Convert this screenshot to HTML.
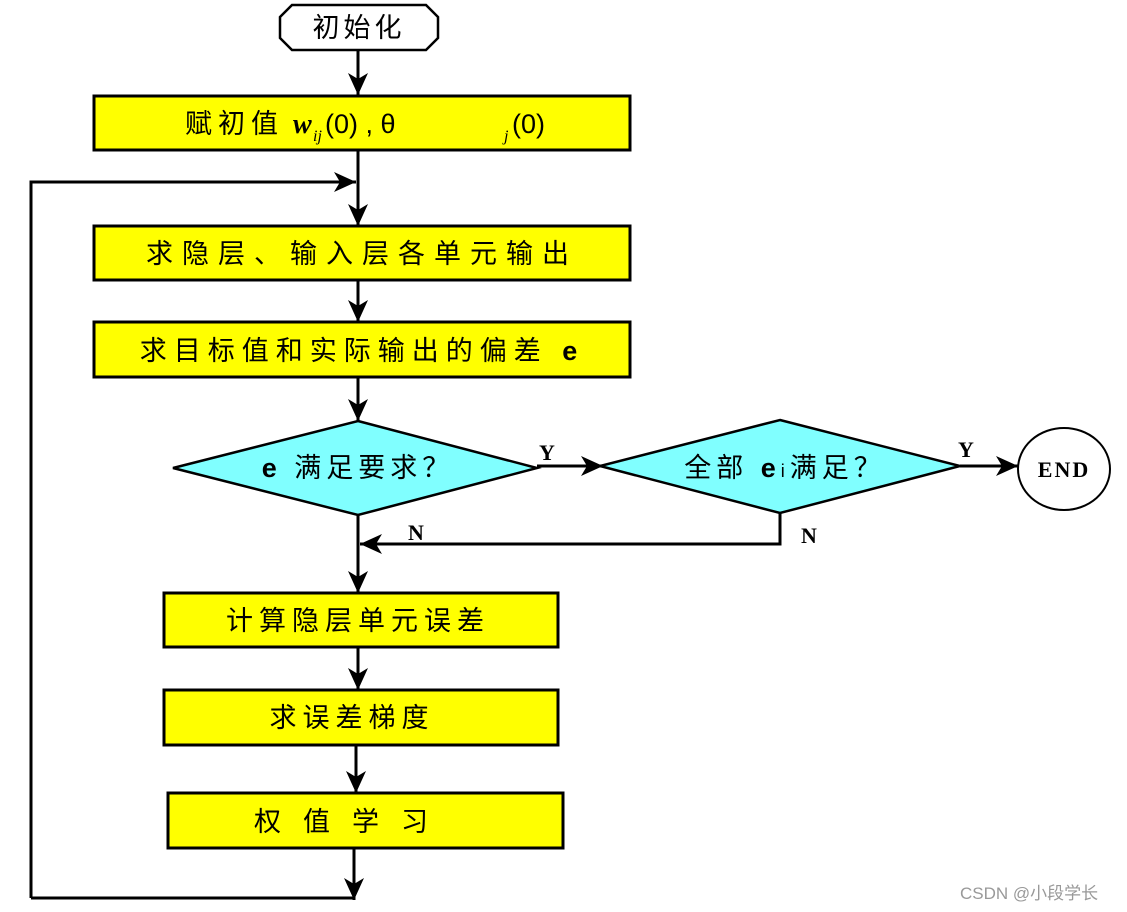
<!DOCTYPE html>
<html><head><meta charset="utf-8"><style>
html,body{margin:0;padding:0;background:#fff;width:1127px;height:912px;overflow:hidden}
svg{display:block}
.t{font-family:"Liberation Sans","Noto Sans CJK SC",sans-serif;font-size:27px;fill:#000}
.s{font-family:"Liberation Serif",serif;font-weight:bold;font-size:22px;fill:#000}
</style></head><body>
<svg width="1127" height="912" viewBox="0 0 1127 912" xmlns="http://www.w3.org/2000/svg">
<defs><marker id="a" markerWidth="12" markerHeight="12" refX="11" refY="6" orient="auto" markerUnits="userSpaceOnUse"><path d="M0,0 L12,6 L0,12 L4,6 Z" fill="#000"/></marker>
<marker id="b" markerWidth="24" markerHeight="24" refX="22" refY="10" orient="auto" markerUnits="userSpaceOnUse"><path d="M0,0 L22,10 L0,20 L6,10 Z" fill="#000"/></marker></defs>
<g stroke="#000" stroke-width="3" fill="none">
<path d="M292,5 L426,5 L438,17 L438,38 L426,50 L292,50 L280,38 L280,17 Z" stroke-width="2.5"/>
<line x1="358" y1="50" x2="358" y2="95" marker-end="url(#b)"/>
<rect x="94" y="96" width="536" height="54" fill="#ffff00"/>
<line x1="358" y1="150" x2="358" y2="226" marker-end="url(#b)"/>
<polyline points="31,898 31,182 356,182" marker-end="url(#b)"/>
<rect x="94" y="226" width="536" height="54" fill="#ffff00"/>
<line x1="358" y1="280" x2="358" y2="322" marker-end="url(#b)"/>
<rect x="94" y="322" width="536" height="55" fill="#ffff00"/>
<line x1="358" y1="377" x2="358" y2="421" marker-end="url(#b)"/>
<polygon points="358,421 537,468 358,515 173,468" fill="#80ffff" stroke-width="2.5"/>
<line x1="537" y1="466" x2="603" y2="466" marker-end="url(#b)"/>
<polygon points="780,420 960,466 780,513 600,466" fill="#80ffff" stroke-width="2.5"/>
<line x1="960" y1="466" x2="1018" y2="466" marker-end="url(#b)"/>
<ellipse cx="1064" cy="469" rx="46" ry="41" stroke-width="2"/>
<polyline points="780,513 780,544 360,544" marker-end="url(#b)"/>
<line x1="358" y1="515" x2="358" y2="593" marker-end="url(#b)"/>
<rect x="164" y="593" width="394" height="54" fill="#ffff00"/>
<line x1="358" y1="647" x2="358" y2="690" marker-end="url(#b)"/>
<rect x="164" y="690" width="394" height="55" fill="#ffff00"/>
<line x1="356" y1="745" x2="356" y2="793" marker-end="url(#b)"/>
<rect x="168" y="793" width="395" height="55" fill="#ffff00"/>
<line x1="354" y1="848" x2="354" y2="900" marker-end="url(#b)"/>
<line x1="31" y1="898" x2="354" y2="898"/>
</g>
<text class="t" x="359" y="37" text-anchor="middle" letter-spacing="4">初始化</text>
<text class="t" x="185" y="133" letter-spacing="6">赋初值</text>
<text x="293" y="133" font-family="Liberation Serif,serif" font-weight="bold" font-style="italic" font-size="28">w</text>
<text x="313" y="141" font-family="Liberation Serif,serif" font-style="italic" font-size="16">ij</text>
<text class="t" x="325" y="133">(0) ,  θ</text>
<text x="504" y="141" font-family="Liberation Serif,serif" font-style="italic" font-size="16">j</text>
<text class="t" x="512" y="133">(0)</text>
<text class="t" x="362" y="263" text-anchor="middle" letter-spacing="9">求隐层、输入层各单元输出</text>
<text class="t" x="362" y="360" text-anchor="middle" letter-spacing="7">求目标值和实际输出的偏差 <tspan font-weight="bold">e</tspan></text>
<text class="t" x="358" y="477" text-anchor="middle" letter-spacing="5"><tspan font-weight="bold">e</tspan> 满足要求？</text>
<text class="t" x="785" y="477" text-anchor="middle" letter-spacing="5">全部 <tspan font-weight="bold">e</tspan><tspan font-size="18">i</tspan>满足？</text>
<text class="s" x="539" y="460">Y</text>
<text class="s" x="958" y="457">Y</text>
<text class="s" x="1064" y="477" text-anchor="middle" letter-spacing="2">END</text>
<text class="s" x="408" y="540">N</text>
<text class="s" x="801" y="543">N</text>
<text class="t" x="358" y="630" text-anchor="middle" letter-spacing="6">计算隐层单元误差</text>
<text class="t" x="352" y="727" text-anchor="middle" letter-spacing="6">求误差梯度</text>
<text class="t" x="352" y="831" text-anchor="middle" letter-spacing="22">权值学习</text>
<text x="960" y="899" font-family="Liberation Sans,Noto Sans CJK SC,sans-serif" font-size="17" fill="#999">CSDN @小段学长</text>
</svg>
</body></html>
